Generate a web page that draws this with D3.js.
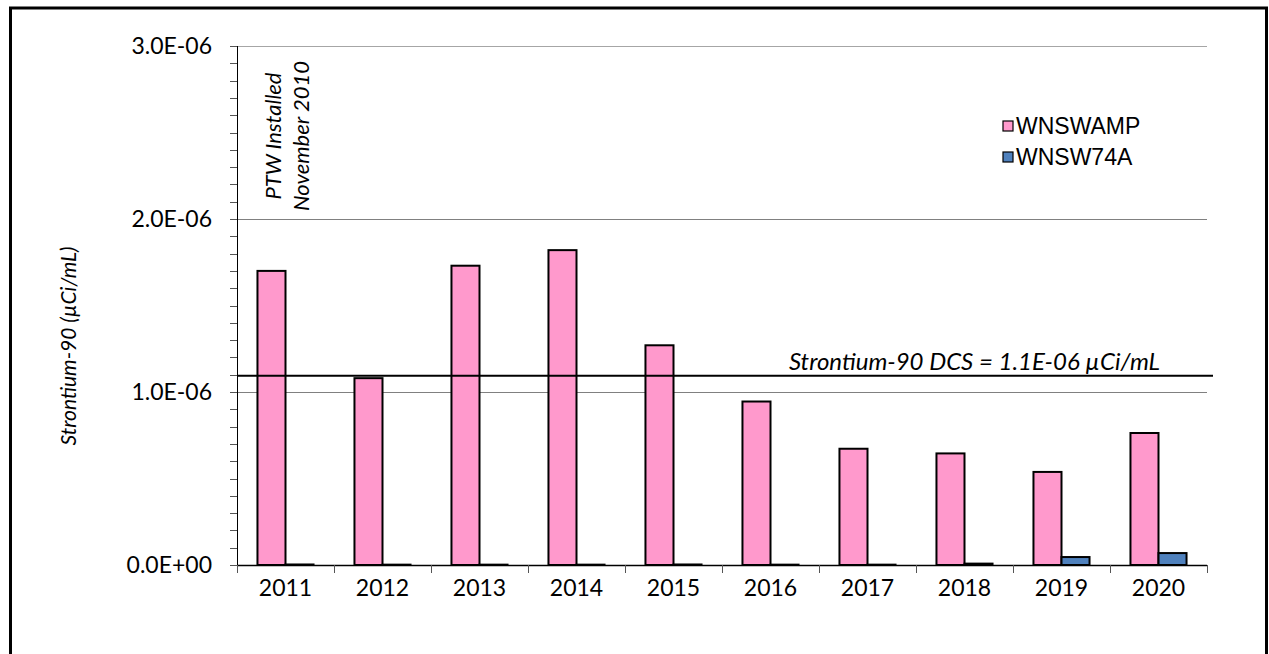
<!DOCTYPE html>
<html><head><meta charset="utf-8">
<script src="https://cdn.jsdelivr.net/npm/d3@7"></script>
<style>html,body{margin:0;padding:0;background:#fff;} svg{display:block;}</style>
</head><body>
<svg id="chart" width="1269" height="654"></svg>
<script>
const years = ["2011","2012","2013","2014","2015","2016","2017","2018","2019","2020"];
const seriesNames = ["WNSWAMP","WNSW74A"];
const wnswamp = [1.70e-6,1.08e-6,1.73e-6,1.82e-6,1.27e-6,0.945e-6,0.672e-6,0.645e-6,0.538e-6,0.763e-6];
const wnsw74a = [3e-9,2e-9,2e-9,2e-9,3e-9,2e-9,2e-9,8e-9,4.6e-8,6.9e-8];
const seriesColors = ["#FF99CC","#4F81BD"];
const yTicks = [0,1e-6,2e-6,3e-6];
const yTickLabels = ["0.0E+00","1.0E-06","2.0E-06","3.0E-06"];
const dcsValue = 1.1e-6;
const dcsLabel = "Strontium-90 DCS = 1.1E-06 \u00B5Ci/mL";
const yTitle = "Strontium-90 (\u00B5Ci/mL)";
const noteLines = ["PTW Installed","November 2010"];

const svg = d3.select("#chart");
const L = 237, R = 1207, T = 46, B = 565;
const calibri = "Lato, 'Open Sans', sans-serif";

// outer border
svg.append("rect").attr("x",10.5).attr("y",8).attr("width",1256).attr("height",700)
  .attr("fill","none").attr("stroke","#000").attr("stroke-width",3);

const x0 = d3.scaleBand().domain(years).range([L,R]).paddingInner(0).paddingOuter(0);
const x1 = d3.scaleBand().domain(seriesNames).range([0,x0.bandwidth()]).paddingInner(0).paddingOuter(0.73);
const y = d3.scaleLinear().domain([0,3e-6]).range([B,T]);

// gridlines
svg.append("g").selectAll("line").data(yTicks.filter(d=>d>0)).join("line")
  .attr("x1",L).attr("x2",R).attr("y1",d=>Math.round(y(d))+0.5).attr("y2",d=>Math.round(y(d))+0.5)
  .attr("stroke",(d,i)=> d===3e-6 ? "#a6a6a6" : "#808080").attr("stroke-width",1);

// minor ticks
const minor = d3.range(0,31).map(i=>i*1e-7);
svg.append("g").selectAll("line").data(minor).join("line")
  .attr("x1",L-7).attr("x2",L).attr("y1",d=>Math.round(y(d))+0.5).attr("y2",d=>Math.round(y(d))+0.5)
  .attr("stroke","#555").attr("stroke-width",1);

// bars
const data = years.map((yr,i)=>({yr, vals:[wnswamp[i],wnsw74a[i]]}));
const groups = svg.append("g").selectAll("g").data(data).join("g")
  .attr("transform",d=>`translate(${x0(d.yr)},0)`);
groups.selectAll("rect").data(d=>d.vals.map((v,j)=>({v, s:seriesNames[j], j}))).join("rect")
  .attr("x",d=>x1(d.s)).attr("width",x1.bandwidth())
  .attr("y",d=>y(d.v)).attr("height",d=>Math.max(0,B-y(d.v)))
  .attr("fill",d=>seriesColors[d.j]).attr("stroke","#000").attr("stroke-width",2);

// y axis line
svg.append("line").attr("x1",L+0.5).attr("x2",L+0.5).attr("y1",T).attr("y2",B)
  .attr("stroke","#000").attr("stroke-width",1);
// x axis
const xAxis = d3.axisBottom(x0).tickSize(0).tickFormat(d=>d);
const gx = svg.append("g").attr("transform",`translate(0,${B})`).call(xAxis);
gx.select(".domain").remove();
gx.selectAll("text").attr("font-family",calibri).attr("font-size",23).attr("fill","#000").attr("dy","1.2em");
svg.append("line").attr("x1",L).attr("x2",R).attr("y1",B+0.5).attr("y2",B+0.5).attr("stroke","#000").attr("stroke-width",1.5);
// x ticks at band boundaries
const bounds = years.map(d=>x0(d)).concat([R]);
svg.append("g").selectAll("line").data(bounds).join("line")
  .attr("x1",d=>Math.round(d)+0.5).attr("x2",d=>Math.round(d)+0.5).attr("y1",B).attr("y2",B+8)
  .attr("stroke","#555").attr("stroke-width",1);

// y labels
svg.append("g").selectAll("text").data(yTicks).join("text")
  .attr("x",212).attr("y",d=>y(d)).attr("dy","0.35em").attr("text-anchor","end")
  .attr("font-family",calibri).attr("font-size",23).attr("fill","#000")
  .text((d,i)=>yTickLabels[i]);

// y title
svg.append("text").attr("transform",`translate(76,346) rotate(-90)`)
  .attr("text-anchor","middle").attr("font-family",calibri).attr("font-style","italic")
  .attr("font-size",21).attr("fill","#000").text(yTitle);

// DCS line
svg.append("line").attr("x1",L).attr("x2",1213).attr("y1",y(dcsValue)+1).attr("y2",y(dcsValue)+1)
  .attr("stroke","#000").attr("stroke-width",2);
svg.append("text").attr("x",1160).attr("y",y(dcsValue)-5).attr("text-anchor","end")
  .attr("font-family",calibri).attr("font-style","italic").attr("font-size",24).attr("fill","#000")
  .text(dcsLabel);

// annotation
noteLines.forEach((t,i)=>{
  svg.append("text").attr("transform",`translate(${281 + i*28},136) rotate(-90)`)
    .attr("font-family",calibri).attr("font-style","italic").attr("font-size",22).attr("fill","#000")
    .attr("text-anchor","middle").text(t);
});

// legend
const lg = svg.append("g");
seriesNames.forEach((s,i)=>{
  const ly = 126 + i*31;
  lg.append("rect").attr("x",1003).attr("y",ly-5).attr("width",10).attr("height",10)
    .attr("fill",seriesColors[i]).attr("stroke","#000").attr("stroke-width",1.2);
  lg.append("text").attr("x",1016).attr("y",ly).attr("dy","0.36em")
    .attr("font-family","Arial, 'Liberation Sans', sans-serif").attr("font-size",23).attr("fill","#000").text(s);
});
</script>
</body></html>
